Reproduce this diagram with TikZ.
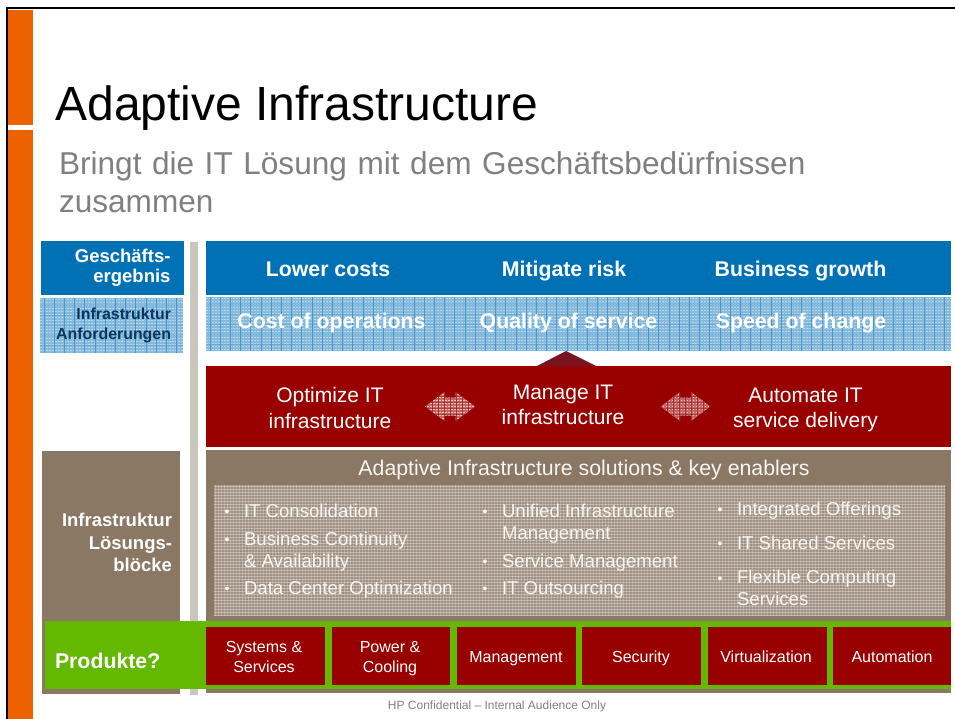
\documentclass[tikz,border=0pt]{standalone}
\usepackage{fontspec}
\setmainfont{Liberation Sans}
\definecolor{hpblue}{HTML}{0071B5}
\definecolor{texblue}{HTML}{86BADC}
\definecolor{texbluedark}{HTML}{3C90C8}
\definecolor{hpred}{HTML}{990000}
\definecolor{hpbrown}{HTML}{8A7865}
\definecolor{hpgreen}{HTML}{64B800}
\definecolor{hporange}{HTML}{EC6100}
\definecolor{hpbar}{HTML}{C9C7BB}
\definecolor{hptri}{HTML}{7A1420}
\definecolor{anfcol}{HTML}{0B3560}
\definecolor{greytext}{HTML}{808080}
\definecolor{softwhite}{HTML}{F8F6F2}
\newcommand{\fs}[2]{\fontsize{#1}{#2}\selectfont}
% blue weave: (x1,y1,x2,y2)
\newcommand{\bluetexture}[4]{%
  \begin{scope}
    \clip (#1,#2) rectangle (#3,#4);
    \fill[texblue] (#1,#2) rectangle (#3,#4);
    \pgfmathsetmacro{\ysecA}{#2+3}
    \pgfmathsetmacro{\ysecB}{#2+10}
    \pgfmathsetmacro{\xsecB}{#1+10.2}
    \foreach \yy in {#2,\ysecA,...,#4} {\draw[white,opacity=.42,line width=1pt,dash pattern=on 1.5pt off 1.5pt] (#1,\yy+1.5) -- (#3,\yy+1.5);}
    \foreach \yy in {#2,\ysecB,...,#4} {\draw[texbluedark,opacity=.3,line width=.9pt] (#1,\yy+7) -- (#3,\yy+7);}
    \foreach \xx in {#1,\xsecB,...,#3} {\draw[texbluedark,opacity=.85,line width=.9pt] (\xx+4,#2) -- (\xx+4,#4);}
  \end{scope}}
\newcommand{\browntexture}[4]{%
  \begin{scope}
    \clip (#1,#2) rectangle (#3,#4);
    \fill[hpbrown!82!white] (#1,#2) rectangle (#3,#4);
    \pgfmathsetmacro{\ysecA}{#2+3}
    \pgfmathsetmacro{\xsecA}{#1+3}
    \foreach \yy in {#2,\ysecA,...,#4} {\draw[white,opacity=.32,line width=1pt] (#1,\yy+1) -- (#3,\yy+1);}
    \foreach \xx in {#1,\xsecA,...,#3} {\draw[white,opacity=.26,line width=1pt] (\xx+1,#2) -- (\xx+1,#4);}
  \end{scope}}
% patterned double arrow centred at (#1,#2)
\newcommand{\weavearrow}[2]{%
  \begin{scope}[shift={(#1,#2)}]
    \begin{scope}
      \clip (-25,0) -- (-5.5,-14.5) -- (-5.5,-9) -- (5.5,-9) -- (5.5,-14.5) -- (25,0) -- (5.5,14.5) -- (5.5,9) -- (-5.5,9) -- (-5.5,14.5) -- cycle;
      \fill[hpred!60!white] (-26,-16) rectangle (26,16);
      \foreach \yy in {-15,-12,...,15} {\draw[white,opacity=.6,line width=1pt,dash pattern=on 1.5pt off 1.5pt] (-26,\yy) -- (26,\yy);}
      \foreach \xx in {-24,-18,...,24} {\draw[hpred,opacity=.55,line width=1pt] (\xx,-16) -- (\xx,16);}
      \foreach \yy in {-12,-6,...,12} {\draw[hpred,opacity=.4,line width=1pt] (-26,\yy+1.5) -- (26,\yy+1.5);}
    \end{scope}
  \end{scope}}
\tikzset{
  every node/.style={inner sep=0pt,outer sep=0pt},
  headline/.style={font=\bfseries\fs{21.3}{25},text=white,align=center,anchor=base},
  sidelabel/.style={font=\bfseries\fs{18.5}{20},text=white,align=right,anchor=east},
  sidedark/.style={font=\bfseries\fs{15.9}{19.5},text=anfcol,align=right,anchor=east},
  redlabel/.style={font=\fs{21}{25.5},text=white,align=center},
  bulletmark/.style={font=\fs{14}{14},text=white},
  bullettext/.style={font=\fs{18.6}{21.8},text=softwhite,align=left,anchor=west},
  productlabel/.style={font=\fs{16}{20},text=white,align=center},
}
\begin{document}
\begin{tikzpicture}[x=1pt,y=-1pt]
\useasboundingbox (0,0) rectangle (955,719);
\fill[white] (0,0) rectangle (955,719);
% frame and orange bar
\fill[hporange] (8,10) rectangle (33,719);
\fill[white] (8,125) rectangle (33,130);
\fill[black] (5.5,8) rectangle (8,719);
\fill[black] (5.5,7.5) rectangle (955,9.5);
% title
\node[anchor=base west,font=\fs{48}{48}] (title) at (55.5,120.5) {Adaptive Infrastructure};
\node[anchor=base west,font=\fs{31.6}{38.5},text=greytext,align=left,text width=800pt] (subtitle) at (59,174.5) {Bringt die IT Lösung mit dem Geschäftsbedürfnissen\\zusammen};
% left column + separator
\fill[hpblue] (41,241) rectangle (184,295);
\bluetexture{40}{298}{183}{353}
\fill[hpbrown] (42,451) rectangle (180,694);
\fill[hpbar] (190,242) rectangle (198,695);
% right panels
\fill[hpblue] (206,241) rectangle (951,295);
\bluetexture{206}{297}{951}{351}
\fill[hptri] (537,366) -- (566,351) -- (596,366) -- cycle;
\fill[hpred] (206,366) rectangle (951,447);
\fill[hpbrown] (206,450) rectangle (951,693);
\browntexture{214}{485}{945}{616}
\weavearrow{450}{406.5}
\weavearrow{685.5}{406.5}
% green band and products
\fill[hpgreen] (45,621) rectangle (951,689);
\foreach \xa/\xb in {206/325,331.5/450,457/576,582/701,708/827,833/951} {
  \fill[hpred] (\xa,627) rectangle (\xb,685);
}
% side labels
\node[sidelabel] (geschaeft) at (170.5,268) {Geschäfts-\\ergebnis};
\node[sidedark] (anford) at (171,325.5) {Infrastruktur\\Anforderungen};
\node[sidelabel,font=\bfseries\fs{18.5}{22.5}] (loesung) at (172,542.5) {Infrastruktur\\Lösungs-\\blöcke};
% outcome rows
\node[headline] (lower) at (328,276.5) {Lower costs};
\node[headline] (mitigate) at (564,276.5) {Mitigate risk};
\node[headline] (growth) at (800.5,276.5) {Business growth};
\node[headline] (cost) at (331.5,328.5) {Cost of operations};
\node[headline] (quality) at (568.5,328) {Quality of service};
\node[headline] (speed) at (801,328) {Speed of change};
% red row
\node[redlabel] (optimize) at (330,408) {Optimize IT\\infrastructure};
\node[redlabel] (manage) at (563,405) {Manage IT\\infrastructure};
\node[redlabel] (automate) at (805.5,410) {Automate IT\\service delivery};
% solutions
\node[font=\fs{21.3}{25},text=softwhite] (solutions) at (584,469.5) {Adaptive Infrastructure solutions \& key enablers};
\foreach \nm/\bx/\by in {a/227/513,b/227/541,c/227/590,d/485/513,e/485/563,f/485/590,g/720/511,h/720/545,i/720/580} {
  \node[bulletmark] (bullet\nm) at (\bx,\by) {•};
}
\node[bullettext] (s1) at (244,511) {IT Consolidation};
\node[bullettext] (s2) at (244,551.5) {Business Continuity\\\& Availability};
\node[bullettext] (s3) at (244,589.5) {Data Center Optimization};
\node[bullettext] (s4) at (502,523.5) {Unified Infrastructure\\Management};
\node[bullettext] (s5) at (502,562.5) {Service Management};
\node[bullettext] (s6) at (502,589.5) {IT Outsourcing};
\node[bullettext] (s7) at (737,510.5) {Integrated Offerings};
\node[bullettext] (s8) at (737,543) {IT Shared Services};
\node[bullettext] (s9) at (737,588) {Flexible Computing\\Services};
% products
\node[anchor=west,font=\bfseries\fs{21.3}{25},text=white] (produkte) at (55,660.5) {Produkte?};
\node[productlabel] (p1) at (264,656.5) {Systems \&\\Services};
\node[productlabel] (p2) at (390,658.5) {Power \&\\Cooling};
\node[productlabel] (p3) at (516,659) {Management};
\node[productlabel] (p4) at (641,658) {Security};
\node[productlabel] (p5) at (766,656.5) {Virtualization};
\node[productlabel] (p6) at (892,656.5) {Automation};
% footer
\node[font=\fs{12}{14},text=greytext] (footer) at (497,706.5) {HP Confidential – Internal Audience Only};
\end{tikzpicture}
\end{document}
